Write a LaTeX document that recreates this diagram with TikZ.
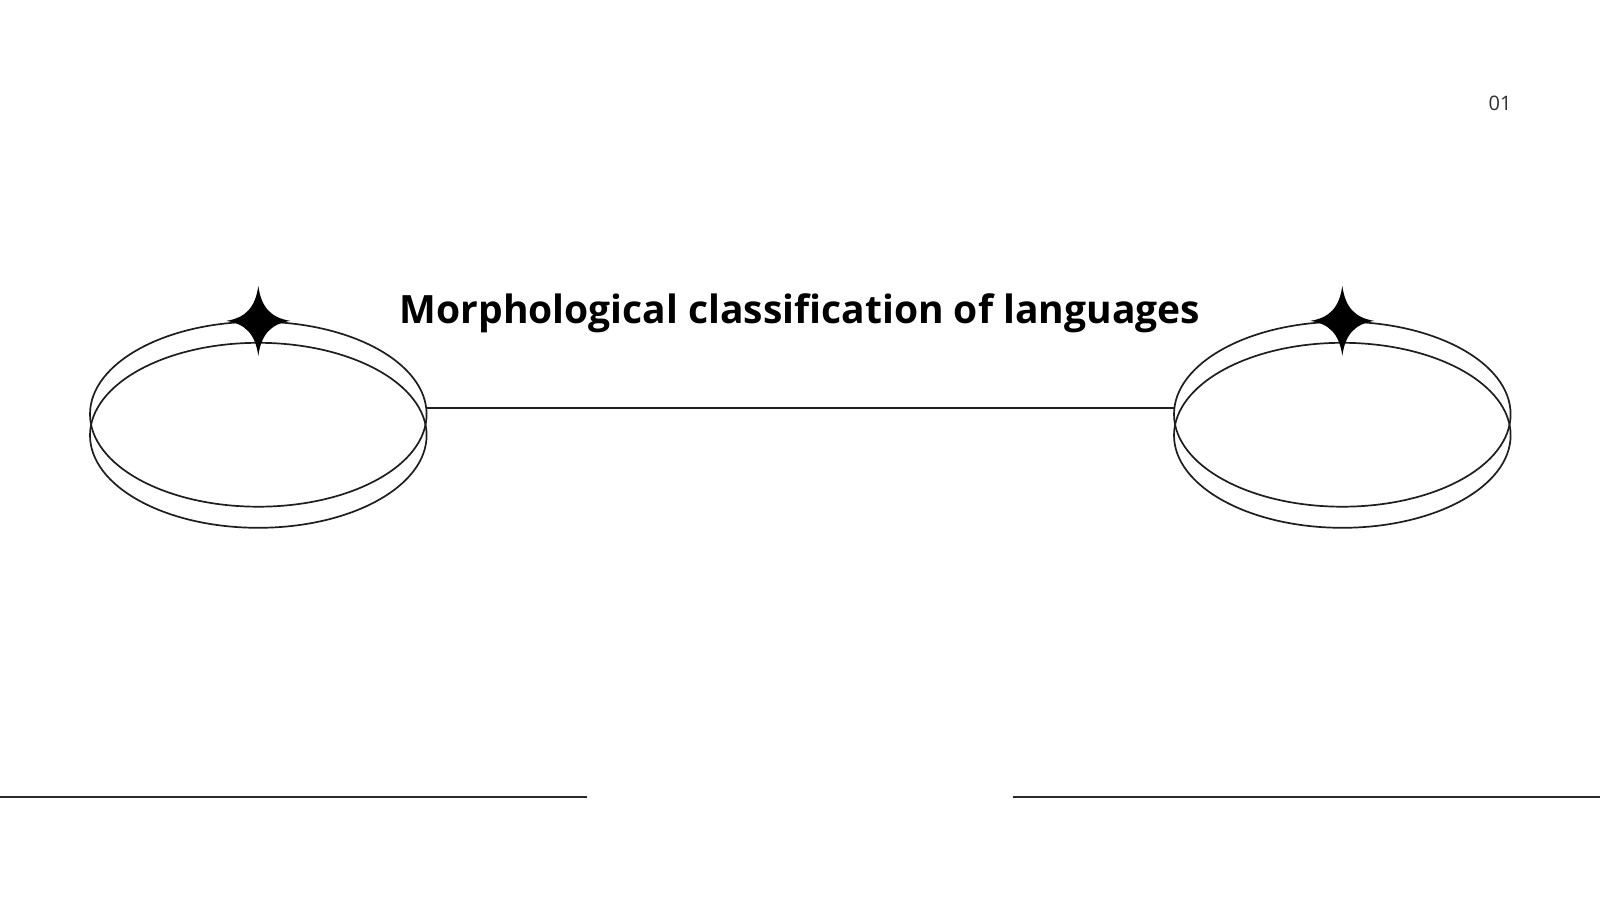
\documentclass[tikz,border=0pt]{standalone}
\usepackage{fontspec}
\setmainfont{Noto Sans}
\newfontfamily\titlefont{Open Sans}
\usetikzlibrary{shapes.geometric}
\definecolor{ink}{HTML}{1E1E1E}
\definecolor{numgray}{HTML}{303030}
\definecolor{rulegray}{HTML}{2A2A2A}
\tikzset{
  ring/.style={ellipse, draw=ink, line width=1.7pt, inner sep=0pt,
    minimum width=336.6pt, minimum height=185pt},
  link/.style={draw=ink, line width=1.7pt},
  baserule/.style={draw=rulegray, line width=2.2pt},
  titletext/.style={font=\titlefont\bfseries\fontsize{39}{46}\selectfont, text=black, anchor=base, inner sep=0pt},
  numtext/.style={font=\titlefont\fontsize{20}{24}\selectfont, text=numgray, anchor=base, inner sep=0pt},
  sparkle/.pic={
    \fill[black] (0,-35) .. controls (3,-13) and (13,-3) .. (32,0)
      .. controls (13,3) and (3,13) .. (0,35)
      .. controls (-3,13) and (-13,3) .. (-32,0)
      .. controls (-13,-3) and (-3,-13) .. cycle;
  }
}
\begin{document}
\begin{tikzpicture}[x=1pt, y=-1pt]
\useasboundingbox[fill=white] (0,0) rectangle (1600,900);

% left pair of rings
\node[ring] (L2) at (258.3,435.3) {};
\node[ring] (L1) at (258.3,414.2) {};
% right pair of rings
\node[ring] (R2) at (1342.3,435.3) {};
\node[ring] (R1) at (1342.3,414.2) {};

% sparkles on top of the upper rings
\pic at (L1.north) {sparkle};
\pic at (R1.north) {sparkle};

% connector between rings
\draw[link] (L1.2) -- (R1.178);

% title
\node[titletext] (title) at (800,323) {Morphological classification of languages};

% page number
\node[numtext] (num) at (1500,110) {01};

% bottom rules
\coordinate (bl0) at (0,797);
\coordinate (bl1) at (587,797);
\coordinate (br0) at (1013,797);
\coordinate (br1) at (1600,797);
\draw[baserule] (bl0) -- (bl1);
\draw[baserule] (br0) -- (br1);
\end{tikzpicture}
\end{document}
